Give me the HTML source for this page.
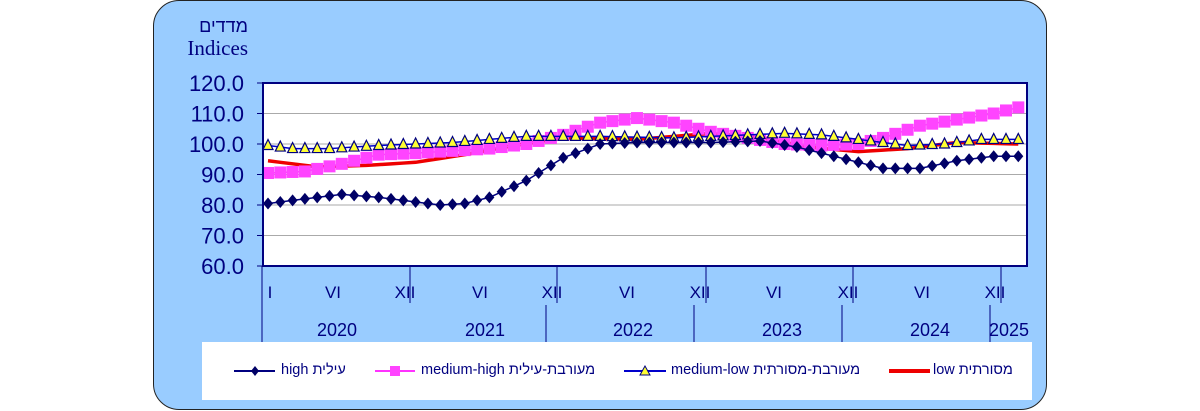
<!DOCTYPE html>
<html><head><meta charset="utf-8"><style>
body{margin:0;width:1200px;height:411px;background:#fff;position:relative;overflow:hidden;font-family:"Liberation Sans",sans-serif}
.box{position:absolute;left:153px;top:0;width:892px;height:408px;background:#99ccff;border:1.5px solid #222;border-radius:26px}
.leg{position:absolute;left:202px;top:342px;width:830px;height:58px;background:#fff}
.lt{position:absolute;top:362px;font-size:14.5px;color:#000080;white-space:nowrap;direction:rtl}
</style></head><body>
<div class="box"></div>
<div class="leg"></div>
<svg id="s" width="1200" height="411" style="position:absolute;left:0;top:0"></svg>
<div class="lt" style="left:281px">עילית high</div>
<div class="lt" style="left:421px">מעורבת-עילית medium-high</div>
<div class="lt" style="left:671px">מעורבת-מסורתית medium-low</div>
<div class="lt" style="left:933px">מסורתית low</div>
<script>
const X0=268,DX=12.3;const Y=v=>83+(120-v)*3.05;
function interp(k){const ks=Object.keys(k).map(Number).sort((a,b)=>a-b);const r=[];for(let i=0;i<=61;i++){let j=0;while(j<ks.length-2&&ks[j+1]<i)j++;const a=ks[j],b=ks[j+1];const t=Math.min(1,Math.max(0,(i-a)/(b-a)));r.push(k[a]+(k[b]-k[a])*t);}return r;}
const high=interp({0:80.5,6:83.5,9:82.5,12:81,14:80,16:80.5,18:82.5,21:88,24:95.5,27:100,30:100.5,36:100.5,40:101,43:99,47:95,50:92,53:92,56:94.5,59:96,61:96});
const mh=interp({0:90.5,3:91,6:93.5,9:96.5,12:97,18:98.5,21:100,24:103,27:107,30:108.5,33:107,36:104,39:102,42:100,45:99.5,48:100,50:102,53:106,56:108,59:110,61:112});
const ml=interp({0:99.5,2:98.5,5:98.5,9:99.5,15:100.5,21:102.5,27:102.5,33:102,39:103,42:103.5,45:103,49:101,52:99.5,55:100,58:101.5,61:101.5});
const low=interp({0:94.5,4:92.5,8:93,12:94,16:96.5,20:99.5,24:102,30:101.5,36:103.5,40:102,44:99,48:97.5,52:98.5,56:100.5,61:100});
let s='<rect x="263" y="83" width="764" height="183" fill="#fff"/>';
for(let v=70;v<=110;v+=10)s+=`<line x1="263" x2="1027" y1="${Y(v)}" y2="${Y(v)}" stroke="#aaa" stroke-width="1"/>`;
for(let v=60;v<=120;v+=10){s+=`<text x="244" y="${Y(v)+8}" text-anchor="end" font-size="22" fill="#000080" font-family="Liberation Sans">${v.toFixed(1)}</text><line x1="257" x2="263" y1="${Y(v)}" y2="${Y(v)}" stroke="#000080"/>`;}
s+=`<text x="248" y="32" text-anchor="end" font-size="18" fill="#000080" font-family="Liberation Sans">מדדים</text><text x="248" y="55" text-anchor="end" font-size="21" fill="#000080" font-family="Liberation Serif">Indices</text>`;
const pts=a=>a.map((v,i)=>`${X0+i*DX},${Y(v)}`).join(' ');
s+=`<polyline points="${pts(low)}" fill="none" stroke="#ee0000" stroke-width="3.5"/>`;
s+=`<polyline points="${pts(mh)}" fill="none" stroke="#ff33ff" stroke-width="1.5"/>`;
mh.forEach((v,i)=>{s+=`<rect x="${X0+i*DX-6}" y="${Y(v)-6}" width="12" height="12" fill="#ff44ff"/>`});
s+=`<polyline points="${pts(ml)}" fill="none" stroke="#0000cc" stroke-width="1.5"/>`;
ml.forEach((v,i)=>{const x=X0+i*DX,y=Y(v);s+=`<polygon points="${x},${y-6} ${x-5},${y+4} ${x+5},${y+4}" fill="#ffff33" stroke="#000080" stroke-width="1.2"/>`});
s+=`<polyline points="${pts(high)}" fill="none" stroke="#000080" stroke-width="1.5"/>`;
high.forEach((v,i)=>{const x=X0+i*DX,y=Y(v);s+=`<polygon points="${x},${y-6} ${x+5},${y} ${x},${y+6} ${x-5},${y}" fill="#000066"/>`});
s+=`<rect x="263" y="83" width="764" height="183" fill="none" stroke="#000080" stroke-width="2"/>`;
[410,557,706,853,1001].forEach(x=>{s+=`<line x1="${x}" x2="${x}" y1="266" y2="303" stroke="#000080"/>`});
[262,546,694,842,990].forEach((x,i)=>{s+=`<line x1="${x}" x2="${x}" y1="${i==0?266:305}" y2="342" stroke="#000080"/>`});
const ml2=[['I',270],['VI',333],['XII',405],['VI',480],['XII',552],['VI',627],['XII',700],['VI',774],['XII',848],['VI',922],['XII',995]];
ml2.forEach(([t,x])=>{s+=`<text x="${x}" y="298" text-anchor="middle" font-size="17" fill="#000080" font-family="Liberation Sans">${t}</text>`});
[['2020',337],['2021',485],['2022',633],['2023',782],['2024',930],['2025',1009]].forEach(([t,x])=>{s+=`<text x="${x}" y="336" text-anchor="middle" font-size="18" fill="#000080" font-family="Liberation Sans">${t}</text>`});
const ly=371;
s+=`<line x1="234" x2="275" y1="${ly}" y2="${ly}" stroke="#000080" stroke-width="2"/><polygon points="255,${ly-5} 259,${ly} 255,${ly+5} 251,${ly}" fill="#000066"/>`;
s+=`<line x1="375" x2="415" y1="${ly}" y2="${ly}" stroke="#ff33ff" stroke-width="2"/><rect x="390" y="${ly-5}" width="10" height="10" fill="#ff44ff"/>`;
s+=`<line x1="624" x2="666" y1="${ly}" y2="${ly}" stroke="#0000cc" stroke-width="2"/><polygon points="645,${ly-5} 640,${ly+4} 650,${ly+4}" fill="#ffff33" stroke="#000080"/>`;
s+=`<line x1="889" x2="930" y1="${ly}" y2="${ly}" stroke="#ee0000" stroke-width="4"/>`;
document.getElementById('s').innerHTML=s;
</script>
</body></html>
